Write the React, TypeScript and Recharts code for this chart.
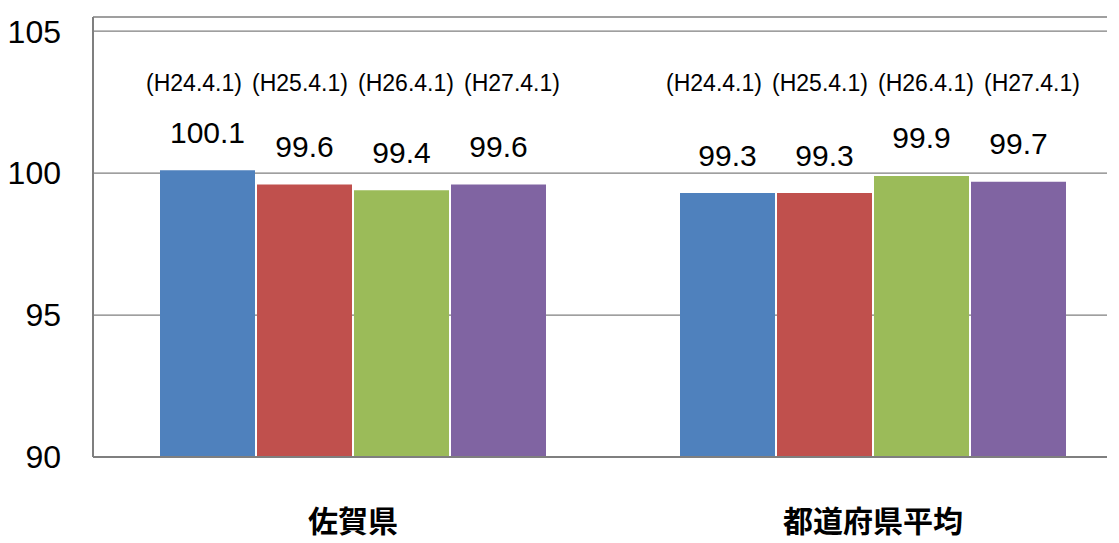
import React from 'react';
import { BarChart, Bar, XAxis, YAxis, CartesianGrid, LabelList } from 'recharts';

const categories = ['佐賀県', '都道府県平均'];
const seriesKeys = ['h24', 'h25', 'h26', 'h27'];
const seriesDates = ['(H24.4.1)', '(H25.4.1)', '(H26.4.1)', '(H27.4.1)'];
const seriesColors = ['#4F81BD', '#C0504D', '#9BBB59', '#8064A2'];
const h24 = [100.1, 99.3];
const h25 = [99.6, 99.3];
const h26 = [99.4, 99.9];
const h27 = [99.6, 99.7];
const yTicks = [90, 95, 100, 105];

const seriesValues = [h24, h25, h26, h27];
const data = categories.map((name, i) => {
  const row: any = { name };
  seriesKeys.forEach((k, s) => {
    row[k] = seriesValues[s][i];
  });
  return row;
});

const FONT = '"Liberation Sans", Arial, sans-serif';

const XTick = (props: any) => {
  const { x, y, payload } = props;
  return (
    <text
      x={x}
      y={y + 54}
      textAnchor="middle"
      dominantBaseline="central"
      fontSize={30}
      fontWeight="bold"
      fontFamily='"Noto Sans CJK JP", sans-serif'
      fill="#000"
    >
      {payload.value}
    </text>
  );
};

const makeValueLabel = () => (props: any) => {
  const { x, y, width, value } = props;
  return (
    <text
      x={x + width / 2}
      y={y - 38}
      textAnchor="middle"
      dominantBaseline="central"
      fontSize={30}
      fontFamily={FONT}
      fill="#000"
    >
      {Number(value).toFixed(1)}
    </text>
  );
};

const makeDateLabel = (s: number) => (props: any) => {
  const { x, width } = props;
  return (
    <text
      x={x + width / 2 + (s - 1.5) * 9}
      y={75}
      textAnchor="middle"
      dominantBaseline="central"
      fontSize={23}
      fontFamily={FONT}
      fill="#000"
    >
      {seriesDates[s]}
    </text>
  );
};

export default function App() {
  return (
    <div style={{ width: 1111, height: 535, background: '#fff' }}>
      <BarChart
        width={1111}
        height={535}
        data={data}
        margin={{ top: 9, right: 12, left: 0, bottom: 0 }}
        barGap={2}
        barSize={95}
      >
        <CartesianGrid vertical={false} stroke="#7f7f7f" strokeWidth={1.3} />
        <XAxis
          dataKey="name"
          height={86}
          padding={{ left: 0, right: -26 }}
          tickLine={false}
          axisLine={{ stroke: '#7f7f7f', strokeWidth: 2 }}
          tick={<XTick />}
          interval={0}
        />
        <YAxis
          width={85}
          domain={[90, 105.5]}
          ticks={yTicks}
          allowDataOverflow
          tickLine={false}
          tickSize={0}
          tickMargin={32}
          axisLine={{ stroke: '#7f7f7f', strokeWidth: 2 }}
          tick={{ fontSize: 32, fill: '#000', fontFamily: FONT }}
        />
        {seriesKeys.map((k, s) => (
          <Bar key={k} dataKey={k} fill={seriesColors[s]} isAnimationActive={false}>
            <LabelList dataKey={k} content={makeValueLabel()} />
            <LabelList dataKey={k} content={makeDateLabel(s)} />
          </Bar>
        ))}
      </BarChart>
    </div>
  );
}
